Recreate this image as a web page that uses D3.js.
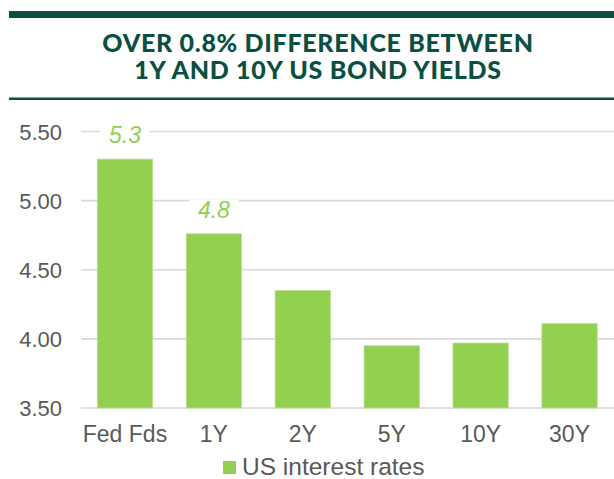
<!DOCTYPE html>
<html>
<head>
<meta charset="utf-8">
<script src="https://cdn.jsdelivr.net/npm/d3@7"></script>
<style>
  body { margin: 0; background: #fff; }
  svg { display: block; }
</style>
</head>
<body>
<div id="chart"></div>
<script>
var titleLines = ["OVER 0.8% DIFFERENCE BETWEEN", "1Y AND 10Y US BOND YIELDS"];
var categories = ["Fed Fds", "1Y", "2Y", "5Y", "10Y", "30Y"];
var rates = [5.30, 4.76, 4.35, 3.95, 3.97, 4.11];
var labelled = ["5.3", "4.8", null, null, null, null];
var yTicks = [3.50, 4.00, 4.50, 5.00, 5.50];
var seriesName = "US interest rates";

var width = 614, height = 479;
var dark = "#0b4f40", green = "#92d050", grey = "#595959";

var svg = d3.select("#chart").append("svg")
    .attr("width", width)
    .attr("height", height);

// header band and rule
svg.append("rect").attr("x", 9).attr("y", 11).attr("width", width - 9).attr("height", 7).attr("fill", dark);
svg.append("rect").attr("x", 9).attr("y", 97.5).attr("width", width - 9).attr("height", 2.5).attr("fill", dark);

svg.selectAll(".title")
    .data(titleLines)
    .enter().append("text")
    .attr("class", "title")
    .attr("x", 318)
    .attr("y", function(d, i){ return 52 + i * 27; })
    .attr("text-anchor", "middle")
    .style("font-family", "Lato, sans-serif")
    .style("font-weight", "900")
    .style("font-size", "25px")
    .style("letter-spacing", "0.7px")
    .style("fill", dark)
    .text(function(d){ return d; });

var x = d3.scaleBand()
    .domain(categories)
    .range([80.5, 614])
    .paddingInner(0.378)
    .paddingOuter(0.189);

var y = d3.scaleLinear()
    .domain([3.5, 5.5])
    .range([408, 131.5]);

// gridlines
svg.append("g")
    .selectAll("line")
    .data(yTicks)
    .enter().append("line")
    .attr("x1", 81).attr("x2", width)
    .attr("y1", function(d){ return y(d); })
    .attr("y2", function(d){ return y(d); })
    .attr("stroke", "#d9d9d9")
    .attr("stroke-width", 1.6);

// y axis
var yAxis = d3.axisLeft(y)
    .tickValues(yTicks)
    .tickFormat(d3.format(".2f"))
    .tickSize(0)
    .tickPadding(0);
var yg = svg.append("g").attr("transform", "translate(62,0)").call(yAxis);
yg.select(".domain").remove();
yg.selectAll("text")
    .attr("dy", "0.36em")
    .style("font-family", "'Liberation Sans', Arial, sans-serif")
    .style("font-size", "22px")
    .style("fill", grey);

// bars
svg.selectAll(".bar")
    .data(rates)
    .enter().append("rect")
    .attr("class", "bar")
    .attr("x", function(d, i){ return x(categories[i]); })
    .attr("width", x.bandwidth())
    .attr("y", function(d){ return y(d); })
    .attr("height", function(d){ return y(3.5) - y(d); })
    .attr("fill", green)
    .attr("stroke", "#b8e290")
    .attr("stroke-width", 0.8);

// x axis
var xAxis = d3.axisBottom(x).tickSize(0).tickPadding(0);
var xg = svg.append("g").attr("transform", "translate(0,442)").call(xAxis);
xg.select(".domain").remove();
xg.selectAll("text")
    .attr("dy", 0)
    .style("font-family", "'Liberation Sans', Arial, sans-serif")
    .style("font-size", "23px")
    .style("fill", grey);

// data labels with white backing
var lab = svg.selectAll(".lab")
    .data(rates.map(function(d, i){ return {v: d, t: labelled[i], c: categories[i]}; })
        .filter(function(d){ return d.t; }))
    .enter().append("g")
    .attr("class", "lab");
lab.append("rect")
    .attr("x", function(d){ return x(d.c) + x.bandwidth() / 2 - 25; })
    .attr("y", function(d){ return y(d.v) - 34; })
    .attr("width", 50)
    .attr("height", 22)
    .attr("fill", "#fff");
lab.append("text")
    .attr("x", function(d){ return x(d.c) + x.bandwidth() / 2; })
    .attr("y", function(d){ return y(d.v) - 16; })
    .attr("text-anchor", "middle")
    .style("font-family", "'Liberation Sans', Arial, sans-serif")
    .style("font-style", "italic")
    .style("font-size", "23px")
    .style("fill", green)
    .text(function(d){ return d.t; });

// legend
var legend = svg.append("g").attr("transform", "translate(223,461)");
legend.append("rect").attr("width", 13).attr("height", 13).attr("fill", green);
legend.append("text")
    .attr("x", 19)
    .attr("y", 14)
    .style("font-family", "'Liberation Sans', Arial, sans-serif")
    .style("font-size", "24.5px")
    .style("fill", grey)
    .text(seriesName);
</script>
</body>
</html>
